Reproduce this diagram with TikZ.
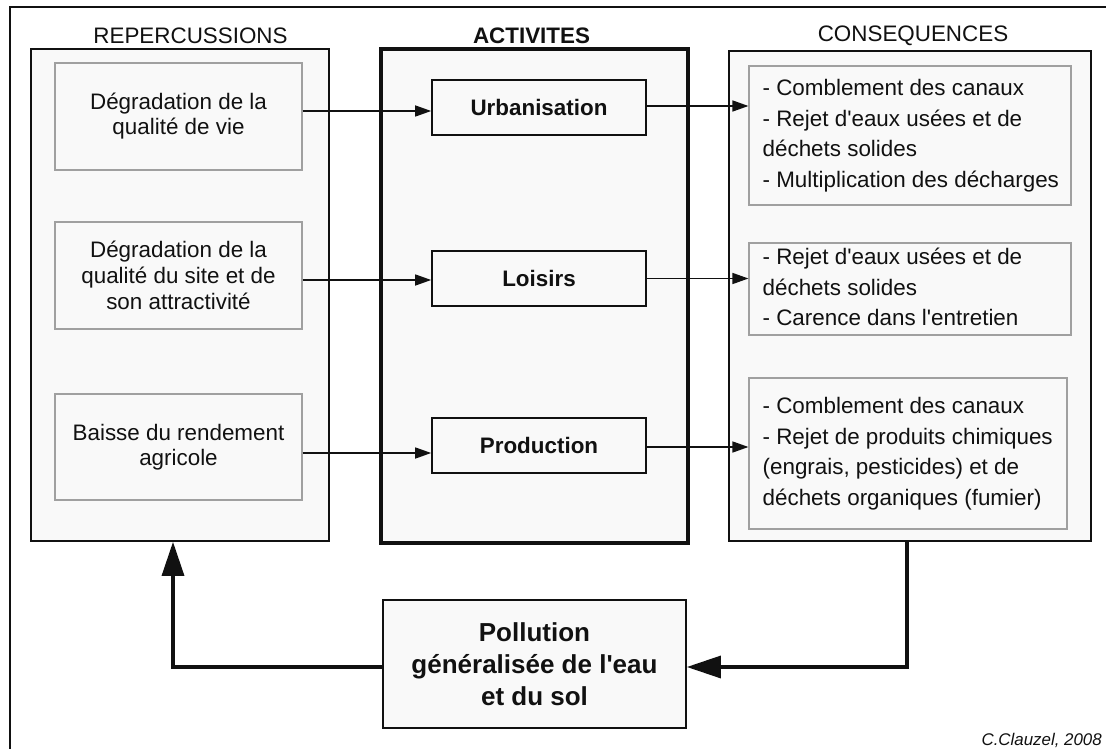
\documentclass[tikz,border=0pt]{standalone}
\usepackage{fontspec}
\setmainfont{Liberation Sans}[Ligatures=TeXOff]
\usetikzlibrary{arrows.meta}
\definecolor{bgfill}{HTML}{F9F9F9}
\definecolor{graybd}{HTML}{A0A0A0}
\definecolor{ink}{HTML}{111111}
\begin{document}
\begin{tikzpicture}[x=1pt,y=-1pt,
 container/.style={draw=ink, line width=1.7pt, fill=bgfill, inner sep=0pt},
 leftbox/.style={draw=graybd, line width=1.1pt, fill=bgfill, minimum width=247pt, minimum height=107pt, align=center, inner sep=0pt, text=ink},
 actbox/.style={draw=ink, line width=1.6pt, fill=bgfill, minimum width=214pt, minimum height=55pt, inner sep=0pt, text=ink, font=\bfseries\fontsize{22.4}{26}\selectfont},
 rightbox/.style={draw=graybd, line width=1.1pt, fill=bgfill, inner sep=0pt},
 rtxt/.style={anchor=west, align=left, inner sep=0pt, font=\fontsize{22.4}{30.5}\selectfont, text=ink},
 conn/.style={line width=1.4pt, draw=ink, -{Triangle[length=16pt,width=11pt]}},
 bigconn/.style={line width=3.3pt, draw=ink, -{Triangle[length=34pt,width=22pt]}},
 title/.style={font=\fontsize{22.4}{26}\selectfont, text=ink, inner sep=0pt},
]
\useasboundingbox (0,0) rectangle (1106,749);
\fill[white] (0,0) rectangle (1106,749);
\draw[line width=2.5pt, ink] (10,749) -- (10,7) -- (1106,7);

% titles
\node[title] (t1) at (190.5,36) {REPERCUSSIONS};
\node[title, font=\bfseries\fontsize{22.4}{26}\selectfont] (t2) at (531.5,36) {ACTIVITES};
\node[title] (t3) at (913,36) {CONSEQUENCES};

% containers
\node[container, minimum width=298pt, minimum height=492pt] (Lc) at (180,295) {};
\node[container, line width=3.6pt, minimum width=307pt, minimum height=494pt] (Mc) at (534.5,296) {};
\node[container, minimum width=362pt, minimum height=490pt] (Rc) at (910,296) {};

% left boxes
\node[leftbox, font=\fontsize{22.4}{25}\selectfont] (L1) at (178.5,116.5) {Dégradation de la\\qualité de vie};
\node[leftbox, font=\fontsize{22.4}{26}\selectfont] (L2) at (178.5,275.5) {Dégradation de la\\qualité du site et de\\son attractivité};
\node[leftbox, minimum height=106pt, font=\fontsize{22.4}{25}\selectfont] (L3) at (178.5,447) {Baisse du rendement\\agricole};

% activity boxes
\node[actbox] (A1) at (539,107.5) {Urbanisation};
\node[actbox] (A2) at (539,278.5) {Loisirs};
\node[actbox] (A3) at (539,445.5) {Production};

% right boxes
\node[rightbox, minimum width=322pt, minimum height=139pt] (R1) at (910,135.5) {};
\node[rightbox, minimum width=322pt, minimum height=92pt] (R2) at (910,289) {};
\node[rightbox, minimum width=318pt, minimum height=151pt] (R3) at (908,453.5) {};
\node[rtxt] (R1t) at ([xshift=14pt]R1.west) {- Comblement des canaux\\- Rejet d'eaux usées et de\\déchets solides\\- Multiplication des décharges};
\node[rtxt] (R2t) at ([xshift=14pt,yshift=2pt]R2.west) {- Rejet d'eaux usées et de\\déchets solides\\- Carence dans l'entretien};
\node[rtxt] (R3t) at ([xshift=14pt]R3.west) {- Comblement des canaux\\- Rejet de produits chimiques\\(engrais, pesticides) et de\\déchets organiques (fumier)};

% pollution box
\node[draw=ink, line width=1.7pt, fill=bgfill, minimum width=303pt, minimum height=128pt, inner sep=0pt, align=center, text=ink, font=\bfseries\fontsize{26}{32}\selectfont] (P) at (534.5,664) {Pollution\\généralisée de l'eau\\et du sol};

% connectors
\draw[conn] ([yshift=-3.5pt]A1.west -| L1.east) -- ([yshift=-3.5pt]A1.west);
\draw[conn] ([yshift=1.5pt]A1.east) -- ([yshift=1.5pt]A1.east -| R1.west);
\draw[conn] ([yshift=-1.5pt]A2.west -| L2.east) -- ([yshift=-1.5pt]A2.west);
\draw[conn] (A2.east) -- (A2.east -| R2.west);
\draw[conn] ([yshift=-7.5pt]A3.west -| L3.east) -- ([yshift=-7.5pt]A3.west);
\draw[conn] ([yshift=-1.5pt]A3.east) -- ([yshift=-1.5pt]A3.east -| R3.west);

\draw[bigconn] ([xshift=-3pt]Rc.south) |- ([yshift=-3pt]P.east);
\draw[bigconn] ([yshift=-3pt]P.west) -| ([xshift=-7pt]Lc.south);

\node[anchor=east, inner sep=0pt, font=\itshape\fontsize{16.9}{20}\selectfont, text=ink] (cr) at (1102,740) {C.Clauzel, 2008};
\end{tikzpicture}
\end{document}
